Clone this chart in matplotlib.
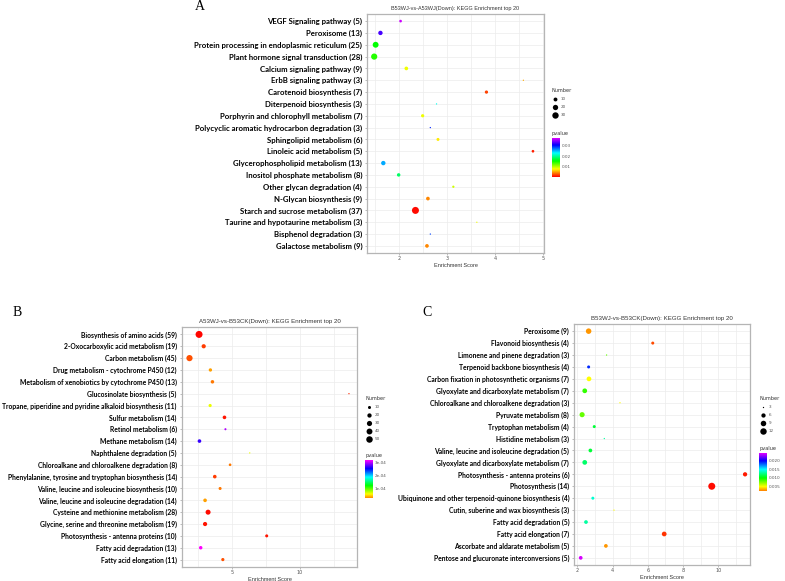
import numpy as np
import matplotlib
matplotlib.use("Agg")
import matplotlib.pyplot as plt
from matplotlib.colors import LinearSegmentedColormap, Normalize

W, H = 785, 581

# ---- panel A: B53WJ-vs-A53WJ(Down)
a_terms = ["VEGF Signaling pathway", "Peroxisome", "Protein processing in endoplasmic reticulum",
           "Plant hormone signal transduction", "Calcium signaling pathway", "ErbB signaling pathway",
           "Carotenoid biosynthesis", "Diterpenoid biosynthesis", "Porphyrin and chlorophyll metabolism",
           "Polycyclic aromatic hydrocarbon degradation", "Sphingolipid metabolism", "Linoleic acid metabolism",
           "Glycerophospholipid metabolism", "Inositol phosphate metabolism", "Other glycan degradation",
           "N-Glycan biosynthesis", "Starch and sucrose metabolism", "Taurine and hypotaurine metabolism",
           "Bisphenol degradation", "Galactose metabolism"]
a_counts = [5, 13, 25, 28, 9, 3, 7, 3, 7, 3, 6, 5, 13, 8, 4, 9, 37, 3, 3, 9]
a_score = [2.03, 1.61, 1.51, 1.48, 2.15, 4.59, 3.82, 2.78, 2.49, 2.65, 2.81, 4.79, 1.67, 1.99, 3.13,
           2.60, 2.34, 3.62, 2.65, 2.58]
a_pval = [0.036, 0.032, 0.015, 0.014, 0.008, 0.005, 0.002, 0.022, 0.008, 0.029, 0.007, 0.001, 0.025,
          0.018, 0.009, 0.004, 0.0003, 0.008, 0.028, 0.004]

# ---- panel B: A53WJ-vs-B53CK(Down)
b_terms = ["Biosynthesis of amino acids", "2-Oxocarboxylic acid metabolism", "Carbon metabolism",
           "Drug metabolism - cytochrome P450", "Metabolism of xenobiotics by cytochrome P450",
           "Glucosinolate biosynthesis", "Tropane, piperidine and pyridine alkaloid biosynthesis",
           "Sulfur metabolism", "Retinol metabolism", "Methane metabolism", "Naphthalene degradation",
           "Chloroalkane and chloroalkene degradation", "Phenylalanine, tyrosine and tryptophan biosynthesis",
           "Valine, leucine and isoleucine biosynthesis", "Valine, leucine and isoleucine degradation",
           "Cysteine and methionine metabolism", "Glycine, serine and threonine metabolism",
           "Photosynthesis - antenna proteins", "Fatty acid degradation", "Fatty acid elongation"]
b_counts = [59, 19, 45, 12, 13, 5, 11, 14, 6, 14, 5, 8, 14, 10, 14, 28, 19, 10, 13, 11]
b_score = [2.61, 2.95, 1.91, 3.44, 3.59, 13.58, 3.42, 4.47, 4.54, 2.64, 6.32, 4.88, 3.76, 4.15, 3.05,
           3.27, 3.05, 7.56, 2.73, 4.35]
b_pval = [2e-6, 1.5e-5, 2e-5, 4e-5, 3e-5, 1e-5, 7e-5, 5e-6, 3.0e-4, 2.7e-4, 7e-5, 3e-5, 1.5e-5, 3e-5,
          4e-5, 3e-6, 5e-6, 5e-6, 3.2e-4, 2e-5]

# ---- panel C: B53WJ-vs-B53CK(Down)
c_terms = ["Peroxisome", "Flavonoid biosynthesis", "Limonene and pinene degradation",
           "Terpenoid backbone biosynthesis", "Carbon fixation in photosynthetic organisms",
           "Glyoxylate and dicarboxylate metabolism", "Chloroalkane and chloroalkene degradation",
           "Pyruvate metabolism", "Tryptophan metabolism", "Histidine metabolism",
           "Valine, leucine and isoleucine degradation", "Glyoxylate and dicarboxylate metabolism",
           "Photosynthesis - antenna proteins", "Photosynthesis",
           "Ubiquinone and other terpenoid-quinone biosynthesis", "Cutin, suberine and wax biosynthesis",
           "Fatty acid degradation", "Fatty acid elongation", "Ascorbate and aldarate metabolism",
           "Pentose and glucuronate interconversions"]
c_counts = [9, 4, 3, 4, 7, 7, 3, 8, 4, 3, 5, 7, 6, 14, 4, 3, 5, 7, 5, 5]
c_score = [2.64, 6.28, 3.66, 2.64, 2.66, 2.42, 4.42, 2.27, 2.96, 3.53, 2.74, 2.42, 11.52, 9.63, 2.88,
           4.08, 2.49, 6.93, 3.62, 2.19]
c_pval = [0.003, 0.0015, 0.008, 0.019, 0.005, 0.009, 0.005, 0.008, 0.011, 0.013, 0.011, 0.012, 0.0005,
          0.0002, 0.014, 0.005, 0.013, 0.001, 0.003, 0.024]

cmap = LinearSegmentedColormap.from_list(
    "pv", [(0, "#ff0000"), (0.2, "#ffff00"), (0.4, "#00ff00"), (0.6, "#00ffff"),
           (0.8, "#0000ff"), (1.0, "#ff00ff")])


def rect(x0, y0, x1, y1):
    return [x0 / W, 1 - y1 / H, (x1 - x0) / W, (y1 - y0) / H]


def dot_size(n, nmin, nmax, dmin=1.3, dmax=7.0):
    n = np.asarray(n, dtype=float)
    d = dmin + (dmax - dmin) * np.sqrt((n - nmin) / (nmax - nmin))
    return (d * 0.72) ** 2


def panel(box, title, terms, counts, score, pval, xlim, xmajor, xminor, vmax,
          leg, leg_counts, cbar, cb_lo, cb_ticks, cb_labels, lab_size, title_size):
    ax = fig.add_axes(rect(*box))
    norm = Normalize(0, vmax)
    nmin, nmax = min(counts), max(counts)
    y = np.arange(len(terms))
    ax.scatter(score, y, s=dot_size(counts, nmin, nmax), c=pval, cmap=cmap, norm=norm,
               linewidths=0, zorder=3)
    ax.set_ylim(len(terms) - 0.4, -0.6)
    ax.set_xlim(*xlim)
    ax.set_yticks(y)
    ax.set_yticklabels([f"{t} ({n})" for t, n in zip(terms, counts)],
                       fontfamily="Lato", fontweight="bold", fontsize=lab_size)
    ax.set_xticks(xmajor)
    ax.set_xticks(xminor, minor=True)
    ax.set_xticklabels([str(v) for v in xmajor])
    ax.tick_params(axis="x", which="major", labelsize=3.5, labelcolor="#555555", length=1.5,
                   width=0.4, color="#888888", pad=1)
    ax.tick_params(axis="x", which="minor", length=0)
    ax.tick_params(axis="y", length=1.5, width=0.4, color="#888888", pad=2)
    ax.grid(True, which="both", color="#ececec", linewidth=0.5, zorder=0)
    ax.set_axisbelow(True)
    for sp in ax.spines.values():
        sp.set_color("#b5b5b5")
        sp.set_linewidth(0.9)
    ax.set_title(title, fontsize=title_size, color="#333333", pad=3, fontfamily="Liberation Sans")
    ax.set_xlabel("Enrichment Score", fontsize=4.0, color="#333333", labelpad=1,
                  fontfamily="Liberation Sans")

    # size legend
    lx, ly, step = leg
    fig.text(lx / W, 1 - ly / H, "Number", fontsize=3.6, color="#333333", va="center")
    lax = fig.add_axes([0, 0, 1, 1], facecolor="none")
    lax.set_xlim(0, W)
    lax.set_ylim(H, 0)
    lax.axis("off")
    for i, n in enumerate(leg_counts):
        yy = ly + 8 + i * step
        lax.scatter([lx + 4], [yy], s=dot_size(n, nmin, nmax), color="black", linewidths=0)
        lax.text(lx + 10, yy, str(n), fontsize=3.0, color="#555555", va="center")

    # colour bar
    cx0, cy0, cx1, cy1 = cbar
    fig.text(cx0 / W, 1 - (cy0 - 4) / H, "pvalue", fontsize=3.6, color="#333333", va="center")
    cax = fig.add_axes(rect(cx0, cy0, cx1, cy1))
    grad = np.linspace(cb_lo, vmax, 256)[:, None]
    cax.imshow(grad, cmap=cmap, norm=norm, aspect="auto", origin="lower",
               extent=[0, 1, cb_lo, vmax])
    cax.set_xticks([])
    cax.yaxis.tick_right()
    cax.set_yticks(cb_ticks)
    cax.set_yticklabels(cb_labels)
    cax.tick_params(axis="y", length=0, labelsize=3.0, labelcolor="#555555", pad=2)
    for sp in cax.spines.values():
        sp.set_visible(False)
    return ax


fig = plt.figure(figsize=(W / 100, H / 100), dpi=100)

panel((367, 14, 544, 253), "B53WJ-vs-A53WJ(Down): KEGG Enrichment top 20",
      a_terms, a_counts, a_score, a_pval, (1.33, 5.02), [2, 3, 4, 5], [1.5, 2.5, 3.5, 4.5], 0.0375,
      (551, 91, 8.2), [10, 20, 30], (551.5, 138, 559, 177.5), 0.0, [0.01, 0.02, 0.03],
      ["0.01", "0.02", "0.03"], 5.6, 4.0)

panel((181.7, 327.3, 357.3, 566.7), "A53WJ-vs-B53CK(Down): KEGG Enrichment top 20",
      b_terms, b_counts, b_score, b_pval, (1.34, 14.19), [5, 10], [2.5, 7.5, 12.5], 3.2e-4,
      (365, 399, 8.0), [10, 20, 30, 40, 50], (365, 459.5, 372.3, 497.5), 0.35e-4,
      [1e-4, 2e-4, 3e-4], ["1e-04", "2e-04", "3e-04"], 4.9, 4.4)

panel((574, 324, 750, 565), "B53WJ-vs-B53CK(Down): KEGG Enrichment top 20",
      c_terms, c_counts, c_score, c_pval, (1.81, 11.8), [2, 4, 6, 8, 10], [3, 5, 7, 9, 11], 0.0248,
      (759, 398.5, 8.3), [3, 6, 9, 12], (759, 452.5, 766.3, 490.7), 0.0025,
      [0.005, 0.010, 0.015, 0.020], ["0.005", "0.010", "0.015", "0.020"], 4.9, 4.4)

for letter, x, y in [("A", 200, 7), ("B", 17.5, 312), ("C", 427, 313)]:
    fig.text(x / W, 1 - y / H, letter, fontsize=10, fontfamily="Liberation Serif",
             ha="center", va="center")

fig.savefig("out.png", dpi=100)
